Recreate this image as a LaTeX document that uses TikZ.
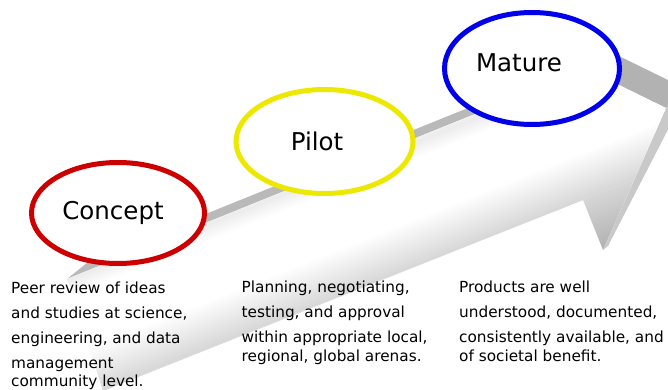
\documentclass[tikz,border=0pt]{standalone}
\usepackage{fontspec}
\setmainfont{DejaVu Sans}
\usetikzlibrary{shapes.geometric,calc}
\definecolor{cred}{RGB}{204,0,0}
\definecolor{cyel}{RGB}{236,232,0}
\definecolor{cblue}{RGB}{0,0,235}
\begin{document}
\begin{tikzpicture}[x=1pt,y=1pt,
  stage/.style={ellipse, draw, line width=5pt, fill=white, inner sep=0pt},
  stagetext/.style={font=\fontsize{24.5}{29}\selectfont, anchor=base, inner sep=0pt},
  desc/.style={font=\fontsize{15.3}{18}\selectfont, anchor=base west, inner sep=0pt},
  sidetop/.style={fill=gray!55},
  headtop/.style={fill=gray!60},
  frontside/.style={fill=gray!42}]
\useasboundingbox (0,0) rectangle (668,389);
\clip (0,0) rectangle (668,389);
% arrow outline points
\coordinate (A) at (67,110);
\coordinate (D) at (103,-2);
\coordinate (E) at (583,189);
\coordinate (F) at (603,139);
\coordinate (G) at (666,281);
\coordinate (H) at (527,349);
\coordinate (I) at (500,285);
\coordinate (o) at (22.4,18);
% extruded sides
\fill[sidetop] (I) -- (A) -- ($(A)+(o)$) -- ($(I)+(o)$) -- cycle;
\fill[headtop] (G) -- (H) -- ($(H)+(o)$) -- ($(G)+(o)$) -- cycle;
\fill[frontside] (F) -- (G) -- ($(G)+(o)$) -- ($(F)+(5,4)$) -- cycle;
% front face
\begin{scope}
  \clip (A) -- (D) -- (E) -- (F) -- (G) -- (H) -- (I) -- cycle;
  \fill[white] (0,0) rectangle (668,389);
  \begin{scope}[transform canvas={shift={(583pt,189pt)}, rotate=21.6}]
    \shade[bottom color=gray!70, top color=gray!32] (-600,-70) rectangle (200,0);
    \shade[bottom color=gray!32, top color=white] (-600,0) rectangle (200,45);
    \shade[bottom color=white, top color=gray!15] (-600,100) rectangle (200,116);
    \shade[bottom color=gray!15, top color=white] (-600,116) rectangle (200,135);
  \end{scope}
\end{scope}
% stages
\node[stage, draw=cred, minimum width=173pt, minimum height=101pt] (concept) at (118,176) {};
\node[stage, draw=cyel, minimum width=177pt, minimum height=104pt] (pilot) at (324.5,247.5) {};
\node[stage, draw=cblue, minimum width=175pt, minimum height=112pt] (mature) at (532,320.5) {};
\node[stagetext] (conceptlbl) at (113,170) {Concept};
\node[stagetext] (pilotlbl) at (317,239) {Pilot};
\node[stagetext] (maturelbl) at (519,317) {Mature};
% descriptions
\node[desc] (c1a) at (11,96) {Peer review of ideas};
\node[desc] (c1b) at (11,71) {and studies at science,};
\node[desc] (c1c) at (11,46) {engineering, and data};
\node[desc] (c1d) at (11,21) {management};
\node[desc] (c1e) at (11,3) {community level.};
\node[desc] (c2a) at (241.5,97) {Planning, negotiating,};
\node[desc] (c2b) at (241.5,72) {testing, and approval};
\node[desc] (c2c) at (241.5,47) {within appropriate local,};
\node[desc] (c2d) at (241.5,28) {regional, global arenas.};
\node[desc] (c3a) at (459,97) {Products are well};
\node[desc] (c3b) at (459,72) {understood, documented,};
\node[desc] (c3c) at (459,47) {consistently available, and};
\node[desc] (c3d) at (459,28) {of societal benefit.};
\end{tikzpicture}
\end{document}
